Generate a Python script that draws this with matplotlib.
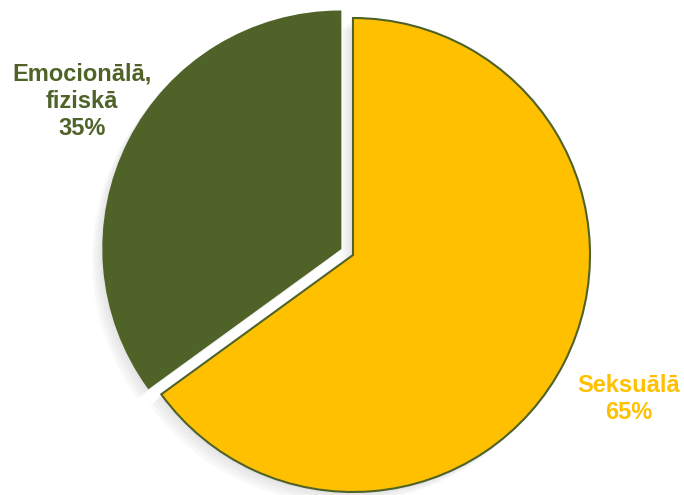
import matplotlib
matplotlib.use("Agg")
import matplotlib.pyplot as plt
import matplotlib.patheffects as pe

categories = ["Seksuālā", "Emocionālā,\nfiziskā"]
shares = [65, 35]
colors = ["#FFC000", "#4F6228"]

plt.rcParams['font.family'] = ['Liberation Sans', 'DejaVu Sans']

fig = plt.figure(figsize=(6.84, 4.95), dpi=100)
ax = fig.add_axes([0, 0, 1, 1])

R = 237
# explode is in data units here (pixels), so scale by the radius
wedges, _ = ax.pie(shares, colors=colors, explode=[0, 0.06 * R], startangle=90,
                   counterclock=False, center=(353, 240), radius=R,
                   wedgeprops=dict(linewidth=1.5, edgecolor="#4F6228"))

# pie resets the limits, so set them afterwards
ax.set_xlim(0, 684)
ax.set_ylim(0, 495)
ax.set_aspect('equal')
ax.axis('off')

# soft shadow, offset down-left
shadow = [pe.SimplePatchShadow(offset=(-2 * i, -2 * i), shadow_rgbFace='gray', alpha=0.05)
          for i in range(4, 0, -1)]
for w in wedges:
    w.set_path_effects(shadow + [pe.Normal()])

# labels
ax.text(629, 495 - 399, f"{categories[0]}\n{shares[0]}%", color=colors[0],
        fontsize=17, fontweight='bold', ha='center', va='center', linespacing=1.25)
ax.text(82, 495 - 101, f"{categories[1]}\n{shares[1]}%", color=colors[1],
        fontsize=17, fontweight='bold', ha='center', va='center', linespacing=1.25)

fig.savefig("out.png", dpi=100)
